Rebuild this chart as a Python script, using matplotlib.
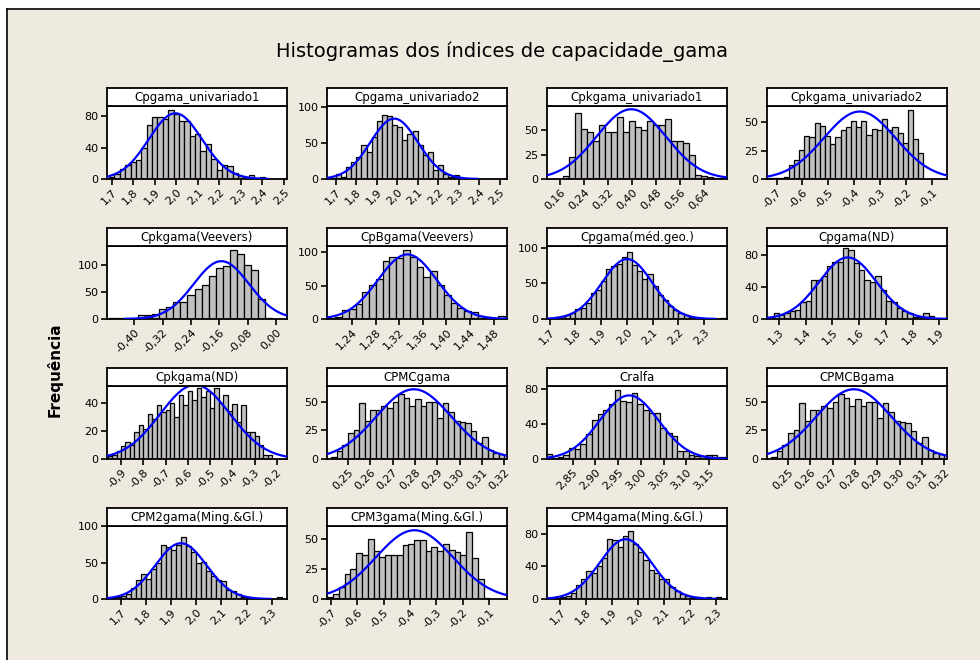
import numpy as np
import matplotlib.pyplot as plt
from matplotlib.lines import Line2D
from matplotlib.patches import Rectangle

plt.rcParams['font.family'] = ['DejaVu Sans']

#%% data: histogram counts (first bin edge, bin width, counts)
titles = ['Cpgama_univariado1', 'Cpgama_univariado2', 'Cpkgama_univariado1', 'Cpkgama_univariado2',
          'Cpkgama(Veevers)', 'CpBgama(Veevers)', 'Cpgama(méd.geo.)', 'Cpgama(ND)',
          'Cpkgama(ND)', 'CPMCgama', 'Cralfa', 'CPMCBgama',
          'CPM2gama(Ming.&Gl.)', 'CPM3gama(Ming.&Gl.)', 'CPM4gama(Ming.&Gl.)']

cp_uni1 = [3, 6, 13, 18, 22, 24, 40, 68, 79, 79, 76, 88, 83, 74, 74, 55, 57, 35, 44, 26,
           11, 18, 16, 8, 4, 2, 5, 1, 3]
cp_uni2 = [1, 7, 3, 17, 24, 31, 48, 38, 58, 81, 90, 88, 76, 73, 55, 63, 67, 47, 33, 38,
           12, 19, 7, 3, 5, 1, 0, 0, 0, 0, 0, 0, 0, 0, 1]
cpk_uni1 = [3, 23, 68, 51, 48, 39, 55, 48, 48, 64, 48, 60, 53, 50, 60, 55, 55, 62, 39, 39,
            37, 25, 4, 3, 2, 1, 1]
cpk_uni2 = [1, 1, 1, 2, 12, 17, 26, 38, 37, 49, 47, 38, 31, 37, 43, 46, 51, 46, 51, 39,
            44, 43, 53, 43, 46, 41, 32, 61, 35, 23]
cpk_veev = [1, 1, 1, 1, 7, 8, 10, 19, 22, 31, 31, 45, 56, 63, 79, 94, 98, 128, 120, 99,
            91, 37, 2]
cpb_veev = [2, 3, 14, 15, 22, 40, 51, 60, 86, 93, 91, 103, 93, 78, 62, 71, 51, 36, 24, 16,
            12, 10, 5, 3, 1, 5]
cp_medgeo = [1, 3, 4, 6, 8, 14, 15, 23, 36, 41, 53, 71, 75, 78, 88, 95, 76, 67, 57, 64,
             47, 34, 27, 18, 13, 8, 6, 3, 1, 1, 0, 0, 0, 2]
cp_nd = [3, 8, 5, 7, 10, 11, 21, 23, 49, 49, 54, 67, 72, 72, 89, 86, 70, 62, 49, 47,
         54, 36, 22, 21, 14, 10, 7, 3, 3, 7, 4]
cpk_nd = [2, 3, 6, 9, 12, 10, 19, 24, 21, 32, 28, 38, 33, 35, 40, 30, 45, 38, 48, 42,
          50, 44, 48, 36, 50, 40, 45, 34, 39, 26, 38, 19, 19, 16, 10, 3, 3]
cpmc = [2, 7, 12, 23, 25, 49, 33, 43, 43, 46, 44, 50, 57, 53, 46, 52, 46, 50, 50, 36,
        49, 41, 33, 32, 31, 24, 14, 19, 8, 5, 4]
cralfa = [6, 1, 2, 5, 13, 11, 17, 28, 44, 51, 56, 63, 79, 66, 65, 75, 62, 56, 52, 52,
          35, 29, 26, 9, 9, 5, 3, 3, 4, 4, 2, 2]
cpmcb = [2, 7, 12, 23, 25, 49, 33, 43, 43, 46, 44, 50, 57, 53, 46, 52, 46, 50, 50, 36,
         49, 41, 33, 32, 31, 24, 14, 19, 8, 5, 4]
cpm2 = [1, 3, 4, 7, 15, 26, 35, 28, 41, 50, 74, 72, 67, 74, 85, 73, 65, 49, 51, 38,
        31, 26, 25, 12, 11, 7, 3, 2, 0, 0, 0, 0, 0, 3]
cpm3 = [2, 4, 10, 21, 25, 38, 37, 50, 40, 35, 37, 37, 37, 45, 46, 49, 49, 40, 43, 40,
        46, 41, 39, 37, 56, 34, 17, 1]
cpm4 = [1, 1, 3, 4, 7, 17, 25, 34, 32, 40, 50, 74, 72, 64, 77, 84, 68, 58, 48, 36,
        32, 25, 25, 15, 10, 6, 4, 2, 2, 1, 2, 1, 2]

counts = [cp_uni1, cp_uni2, cpk_uni1, cpk_uni2, cpk_veev, cpb_veev, cp_medgeo, cp_nd,
          cpk_nd, cpmc, cralfa, cpmcb, cpm2, cpm3, cpm4]
first_edge = [1.6875, 1.675, 0.17, -0.733, -0.47, 1.20, 1.70, 1.26,
              -0.96, 0.2425, 2.7925, 0.2425, 1.66, -0.714, 1.66]
bin_width = [0.025, 0.025, 0.02, 0.02, 0.02, 0.0115, 0.02, 0.02,
             0.02, 0.0025, 0.0125, 0.0025, 0.02, 0.022, 0.02]

# tick labels as printed
xtick_labels = [
    ['1,7', '1,8', '1,9', '2,0', '2,1', '2,2', '2,3', '2,4', '2,5'],
    ['1,7', '1,8', '1,9', '2,0', '2,1', '2,2', '2,3', '2,4', '2,5'],
    ['0,16', '0,24', '0,32', '0,40', '0,48', '0,56', '0,64'],
    ['-0,7', '-0,6', '-0,5', '-0,4', '-0,3', '-0,2', '-0,1'],
    ['-0,40', '-0,32', '-0,24', '-0,16', '-0,08', '0,00'],
    ['1,24', '1,28', '1,32', '1,36', '1,40', '1,44', '1,48'],
    ['1,7', '1,8', '1,9', '2,0', '2,1', '2,2', '2,3'],
    ['1,3', '1,4', '1,5', '1,6', '1,7', '1,8', '1,9'],
    ['-0,9', '-0,8', '-0,7', '-0,6', '-0,5', '-0,4', '-0,3', '-0,2'],
    ['0,25', '0,26', '0,27', '0,28', '0,29', '0,30', '0,31', '0,32'],
    ['2,85', '2,90', '2,95', '3,00', '3,05', '3,10', '3,15'],
    ['0,25', '0,26', '0,27', '0,28', '0,29', '0,30', '0,31', '0,32'],
    ['1,7', '1,8', '1,9', '2,0', '2,1', '2,2', '2,3'],
    ['-0,7', '-0,6', '-0,5', '-0,4', '-0,3', '-0,2', '-0,1'],
    ['1,7', '1,8', '1,9', '2,0', '2,1', '2,2', '2,3'],
]
ytick_values = [[0, 40, 80], [0, 50, 100], [0, 25, 50], [0, 25, 50],
                [0, 50, 100], [0, 50, 100], [0, 50, 100], [0, 40, 80],
                [0, 20, 40], [0, 25, 50], [0, 40, 80], [0, 25, 50],
                [0, 50, 100], [0, 25, 50], [0, 40, 80]]

# axis ranges
x_range = [(1.678, 2.515), (1.657, 2.536), (0.1167, 0.7167), (-0.737, -0.042),
           (-0.477, 0.031), (1.1976, 1.5027), (1.6895, 2.389), (1.255, 1.929),
           (-0.963, -0.154), (0.2406, 0.3212), (2.794, 3.189), (0.2406, 0.3212),
           (1.6454, 2.361), (-0.715, -0.031), (1.648, 2.342)]
y_top = [92.7, 102, 75, 64.4, 135, 109, 102.8, 91.6,
         51.7, 63.6, 83, 63.6, 100.4, 60.8, 89.8]

#%% figure
W, H = 980, 660
fig = plt.figure(figsize=(W / 100, H / 100), dpi=100)
fig.patch.set_facecolor('white')
bg = '#eeeae0'
fig.patches.append(Rectangle((7 / W, 0), 1 - 7 / W, 1 - 9 / H, transform=fig.transFigure,
                             facecolor=bg, edgecolor='none', zorder=-10))
fig.lines.append(Line2D([7 / W, 7 / W], [0, 1 - 9 / H], transform=fig.transFigure,
                        color='black', lw=1.2))
fig.lines.append(Line2D([7 / W, 1], [1 - 9 / H, 1 - 9 / H], transform=fig.transFigure,
                        color='black', lw=1.2))

fig.text(0.512, 1 - 52 / H, 'Histogramas dos índices de capacidade_gama',
         ha='center', va='center', fontsize=14)
fig.text(55 / W, 1 - 370 / H, 'Frequência', rotation=90, ha='center', va='center',
         fontsize=11, fontweight='bold')

pw, ph, hh = 180, 73, 18
for i in range(15):
    r, c = divmod(i, 4)
    left = 107 + 220 * c
    top = 106 + 140 * r
    ax = fig.add_axes([left / W, 1 - (top + ph) / H, pw / W, ph / H])
    hx = fig.add_axes([left / W, 1 - top / H, pw / W, hh / H])

    cnt = np.array(counts[i], dtype=float)
    bw = bin_width[i]
    edges = first_edge[i] + bw * np.arange(len(cnt) + 1)
    ax.bar(edges[:-1], cnt, width=bw, align='edge', color='#c0c0c0',
           edgecolor='black', linewidth=0.9, zorder=2)

    # normal fit from the binned data
    mids = edges[:-1] + bw / 2
    n = cnt.sum()
    mu = (cnt * mids).sum() / n
    sd = np.sqrt((cnt * (mids - mu) ** 2).sum() / (n - 1))
    x0, x1 = x_range[i]
    xs = np.linspace(max(x0, mu - 3.5 * sd), min(x1, mu + 3.5 * sd), 300)
    ys = n * bw * np.exp(-0.5 * ((xs - mu) / sd) ** 2) / (sd * np.sqrt(2 * np.pi))
    ax.plot(xs, ys, color='#0000ff', lw=1.6, zorder=3, clip_on=True)

    ax.set_xlim(x0, x1)
    ax.set_ylim(0, y_top[i])
    labs = xtick_labels[i]
    ax.set_xticks([float(s.replace(',', '.')) for s in labs])
    ax.set_xticklabels(labs, rotation=45, ha='right', rotation_mode='anchor', fontsize=8)
    ax.set_yticks(ytick_values[i])
    ax.set_yticklabels([str(v) for v in ytick_values[i]], fontsize=8)
    ax.tick_params(direction='out', length=4, width=1.2, pad=2)
    ax.set_facecolor('white')
    for s in ax.spines.values():
        s.set_linewidth(1.3)

    hx.set_xticks([])
    hx.set_yticks([])
    hx.set_facecolor('white')
    for s in hx.spines.values():
        s.set_linewidth(1.3)
    hx.text(0.5, 0.45, titles[i], ha='center', va='center', fontsize=8.5,
            transform=hx.transAxes)

fig.savefig('out.png', dpi=100, facecolor='white')
